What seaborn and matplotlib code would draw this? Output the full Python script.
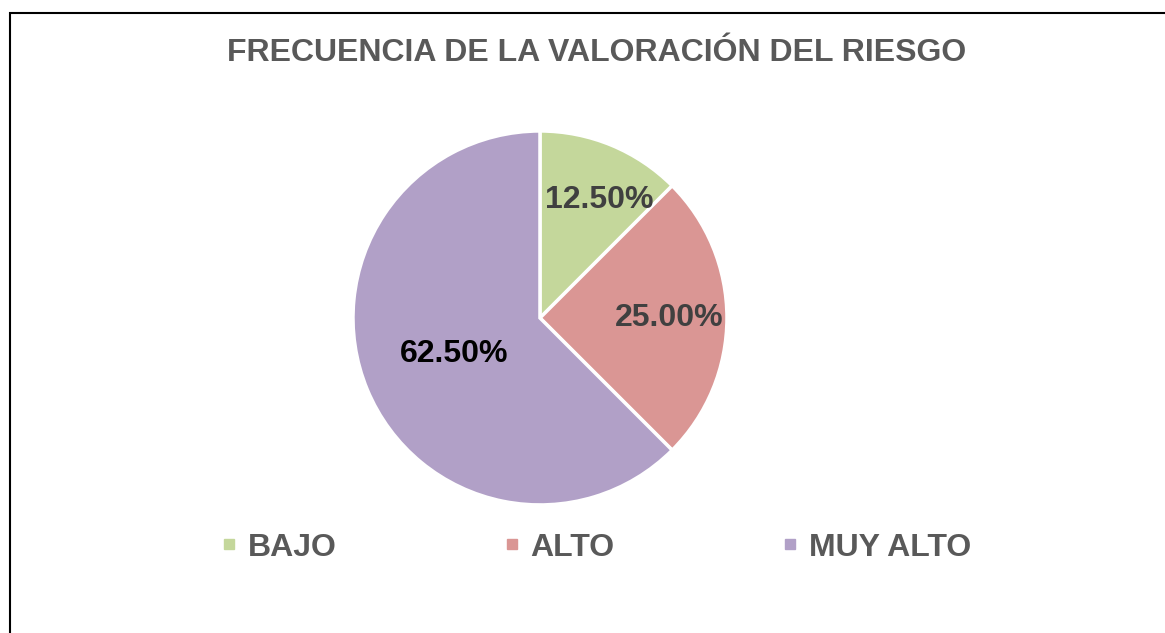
import matplotlib
matplotlib.use("Agg")
import matplotlib.pyplot as plt
import seaborn as sns
from matplotlib.lines import Line2D
from matplotlib.patches import Rectangle

# Risk assessment frequency data
categories = ["BAJO", "ALTO", "MUY ALTO"]
shares = [12.5, 25.0, 62.5]
colors = ["#C4D79B", "#DA9694", "#B1A0C7"]

sns.set_style("white")
plt.rcParams['font.family'] = ['Liberation Sans', 'DejaVu Sans']

fig = plt.figure(figsize=(11.65, 6.33), dpi=100)

# outer chart border (left and top visible)
fig.patches.append(Rectangle((10 / 1165, -0.1), 1.2, 1.1 - 13 / 633, transform=fig.transFigure,
                             fill=False, edgecolor="black", linewidth=1.5, zorder=0))

ax = fig.add_axes([0.303, 0.2022, 0.321, 0.591])
wedges, texts, autotexts = ax.pie(
    shares, colors=colors, startangle=90, counterclock=False,
    autopct='%.2f%%', pctdistance=0.69,
    wedgeprops=dict(edgecolor="white", linewidth=2.5),
    textprops=dict(fontsize=23, fontweight="bold", color="#404040"),
)
ax.set_xlim(-1, 1)
ax.set_ylim(-1, 1)
ax.axis("off")

# Excel-like best fit label placement
x, y = autotexts[0].get_position()
autotexts[0].set_position((x * 1.2, y * 0.99))
x, y = autotexts[2].get_position()
autotexts[2].set_position((x * 0.72, y * 0.72))
autotexts[2].set_color("black")

fig.text(0.512, 0.917, "FRECUENCIA DE LA VALORACIÓN DEL RIESGO", ha="center", va="center",
         fontsize=23, fontweight="bold", color="#595959")

handles = [Line2D([], [], marker="s", linestyle="", markersize=7, color=c) for c in colors]
fig.legend(handles, categories, loc="center", bbox_to_anchor=(0.512, 0.135), ncol=3,
           frameon=False, columnspacing=5.27, handlelength=0.45, handletextpad=0.35,
           prop=dict(size=23, weight="bold"), labelcolor="#595959")

fig.savefig("out.png", dpi=100)
